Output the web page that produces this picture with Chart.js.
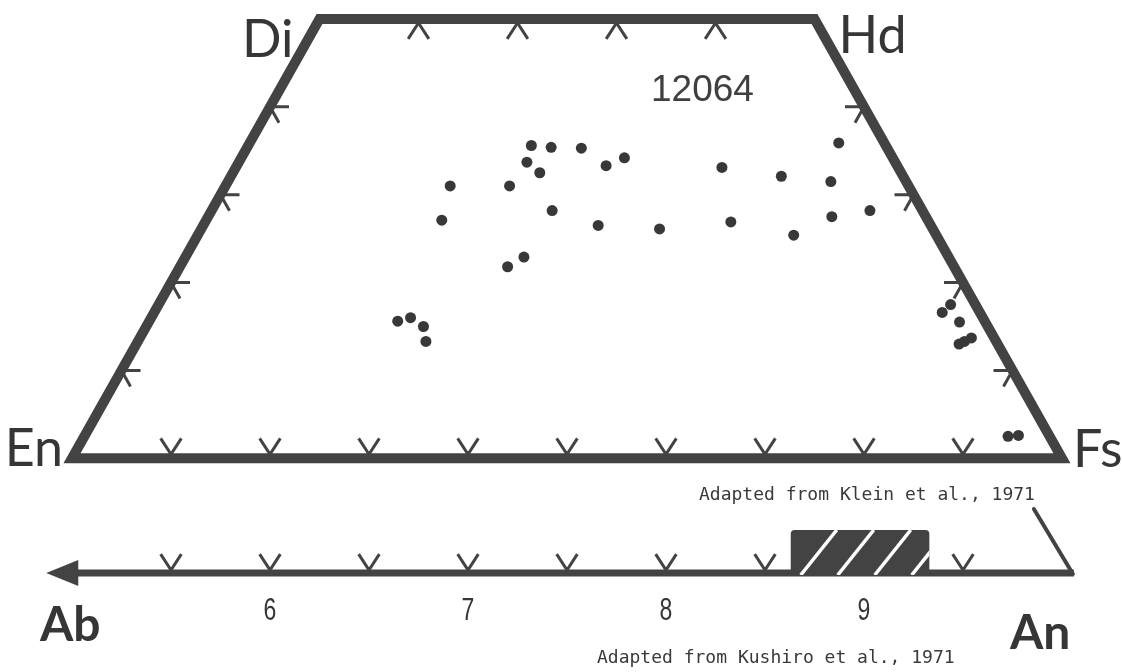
<!DOCTYPE html>
<html>
<head>
<meta charset="utf-8">
<title>12064 pyroxene and plagioclase compositions</title>
<script src="https://cdn.jsdelivr.net/npm/chart.js@4.4.1/dist/chart.umd.min.js"></script>
<style>
  html, body { margin: 0; padding: 0; background: #ffffff; }
  canvas { display: block; }
</style>
</head>
<body>
<canvas id="quad" width="1122" height="672"></canvas>
<script>
// Pyroxene analyses, sample 12064 (mol % Wo and Fs; En = 100 - Wo - Fs)
const pyxWo = [35.6, 35.4, 35.3, 33.7, 32.5, 33.3, 34.2, 31.0, 31.0, 28.2, 27.1, 26.5, 26.1, 22.9, 21.8,
               35.9, 33.1, 32.1, 31.5, 26.9, 25.4, 27.5, 28.2,
               15.6, 16.0, 15.0, 13.3,
               16.6, 17.5, 15.5, 13.0, 13.3, 13.7,
               2.5, 2.6];
const pyxFs = [28.6, 30.7, 33.8, 29.1, 31.0, 37.3, 38.7, 22.7, 28.7, 34.4, 23.8, 39.9, 46.3, 34.2, 33.1,
               59.5, 49.1, 55.6, 60.9, 53.1, 60.2, 63.0, 66.5,
               25.1, 26.2, 28.0, 29.1,
               79.6, 80.0, 81.9, 83.1, 83.5, 84.0,
               93.3, 94.3];

// Quadrilateral corners
const cornerNames = ['En', 'Di', 'Hd', 'Fs'];
const cornerWo = [0, 50, 50, 0];
const cornerFs = [0, 0, 50, 100];

// Edge tick marks (mol %)
const baseTicksFs = [10, 20, 30, 40, 50, 60, 70, 80, 90];
const topTicksFs = [10, 20, 30, 40];
const sideTicksWo = [10, 20, 30, 40];

// Plagioclase scale (mol % An)
const plagTicksAn = [55, 60, 65, 70, 75, 80, 85, 90, 95];
const plagLabelsAn = [60, 70, 80, 90];
const plagRangeAn = [86.3, 93.3];
const plagEndsAn = [48.8, 100.6];

const sampleName = '12064';
const sourceTop = 'Adapted from Klein et al., 1971';
const sourceBottom = 'Adapted from Kushiro et al., 1971';

// Ternary projection onto the En–Fs baseline
const proj = (wo, fs) => fs + wo / 2;

const INK = '#434343';
const DOT = '#383838';
const EDGE_W = 10;

const outlineOrder = [0, 1, 2, 3, 0, 1];
const outlineData = outlineOrder.map(i => ({ x: proj(cornerWo[i], cornerFs[i]), y: cornerWo[i] }));
const pyxData = pyxWo.map((wo, i) => ({ x: proj(wo, pyxFs[i]), y: wo }));

const diagramPlugin = {
  id: 'pyxDiagram',
  afterDatasetsDraw(chart) {
    const { ctx } = chart;
    const { x, y, x2 } = chart.scales;
    const px = (wo, fs) => x.getPixelForValue(proj(wo, fs));
    const py = wo => y.getPixelForValue(wo);
    const half = EDGE_W / 2;
    const ang = 57 * Math.PI / 180;
    const arm = 19;
    const ax = arm * Math.cos(ang), ay = arm * Math.sin(ang);

    ctx.save();
    ctx.strokeStyle = INK;
    ctx.lineWidth = 3;
    ctx.lineCap = 'butt';
    ctx.lineJoin = 'miter';

    // V marks on En–Fs join
    baseTicksFs.forEach(fs => {
      const cx = px(0, fs), cy = py(0) - half + 1;
      ctx.beginPath();
      ctx.moveTo(cx - ax, cy - ay);
      ctx.lineTo(cx, cy);
      ctx.lineTo(cx + ax, cy - ay);
      ctx.stroke();
    });
    // inverted marks on Di–Hd join
    topTicksFs.forEach(fs => {
      const cx = px(50, fs), cy = py(50) + half - 1;
      ctx.beginPath();
      ctx.moveTo(cx - ax, cy + ay);
      ctx.lineTo(cx, cy);
      ctx.lineTo(cx + ax, cy + ay);
      ctx.stroke();
    });
    // side marks: horizontal arm plus 60° arm
    sideTicksWo.forEach(wo => {
      const lx = px(wo, 0), ly = py(wo);
      ctx.beginPath();
      ctx.moveTo(lx + 19, ly);
      ctx.lineTo(lx, ly);
      ctx.lineTo(lx + 9, ly + 16);
      ctx.stroke();
      const rx = px(wo, 100 - wo), ry = py(wo);
      ctx.beginPath();
      ctx.moveTo(rx - 19, ry);
      ctx.lineTo(rx, ry);
      ctx.lineTo(rx - 9, ry + 16);
      ctx.stroke();
    });

    // Plagioclase scale
    const rowY = 573;
    const left = x2.getPixelForValue(plagEndsAn[0]);
    const right = x2.getPixelForValue(plagEndsAn[1]);
    ctx.lineWidth = 7;
    ctx.beginPath();
    ctx.moveTo(left + 26, rowY);
    ctx.lineTo(right, rowY);
    ctx.stroke();
    ctx.fillStyle = INK;
    ctx.beginPath();
    ctx.moveTo(left - 2, rowY);
    ctx.lineTo(left + 30, rowY - 13);
    ctx.lineTo(left + 30, rowY + 13);
    ctx.closePath();
    ctx.fill();
    // leader up toward the pyroxene diagram
    ctx.lineWidth = 4;
    ctx.lineCap = 'round';
    ctx.beginPath();
    ctx.moveTo(right - 1, rowY + 1);
    ctx.lineTo(right - 40, rowY - 64);
    ctx.stroke();
    ctx.lineCap = 'butt';

    // V marks on the plagioclase scale
    ctx.lineWidth = 3;
    plagTicksAn.forEach(an => {
      const cx = x2.getPixelForValue(an), cy = rowY - 3;
      ctx.beginPath();
      ctx.moveTo(cx - ax, cy - ay);
      ctx.lineTo(cx, cy);
      ctx.lineTo(cx + ax, cy - ay);
      ctx.stroke();
    });

    // hatched composition range
    const bx0 = x2.getPixelForValue(plagRangeAn[0]);
    const bx1 = x2.getPixelForValue(plagRangeAn[1]);
    const by0 = rowY - 43, by1 = rowY + 2;
    ctx.save();
    ctx.beginPath();
    ctx.roundRect(bx0, by0, bx1 - bx0, by1 - by0, 4);
    ctx.fillStyle = INK;
    ctx.fill();
    ctx.clip();
    ctx.strokeStyle = '#ffffff';
    ctx.lineWidth = 3.5;
    for (let sx = bx0 + 10; sx < bx1 + 40; sx += 37) {
      ctx.beginPath();
      ctx.moveTo(sx, by1);
      ctx.lineTo(sx + 36, by0);
      ctx.stroke();
    }
    ctx.restore();

    // Text
    ctx.fillStyle = '#363636';
    ctx.textBaseline = 'alphabetic';
    const corner = i => ({ cx: px(cornerWo[i], cornerFs[i]), cy: py(cornerWo[i]) });
    ctx.font = '52px Lato, "Open Sans", sans-serif';
    let c = corner(0);
    ctx.textAlign = 'right';
    ctx.fillText(cornerNames[0], c.cx - 9, c.cy + 8);
    c = corner(1);
    ctx.fillText(cornerNames[1], c.cx - 26, c.cy + 38);
    ctx.textAlign = 'left';
    c = corner(2);
    ctx.fillText(cornerNames[2], c.cx + 24, c.cy + 34);
    c = corner(3);
    ctx.fillText(cornerNames[3], c.cx + 11, c.cy + 9);

    ctx.font = '37px "Liberation Sans", Arial, sans-serif';
    ctx.fillStyle = '#404040';
    ctx.fillText(sampleName, 651, 101);

    ctx.font = 'bold 48px Lato, "Open Sans", sans-serif';
    ctx.fillStyle = '#363636';
    ctx.fillText('Ab', 40, 641);
    ctx.fillText('An', 1010, 649);

    // condensed numerals under the plagioclase scale
    ctx.font = '32px "Liberation Sans", Arial, sans-serif';
    ctx.textAlign = 'center';
    plagLabelsAn.forEach(an => {
      ctx.save();
      ctx.translate(x2.getPixelForValue(an), 620);
      ctx.scale(0.72, 1);
      ctx.fillText(String(an / 10), 0, 0);
      ctx.restore();
    });

    ctx.font = '18px "DejaVu Sans Mono", "Liberation Mono", monospace';
    ctx.textAlign = 'left';
    ctx.fillStyle = '#3a3a3a';
    ctx.fillText(sourceTop, 699, 500);
    ctx.fillText(sourceBottom, 597, 663);
    ctx.restore();
  }
};

new Chart(document.getElementById('quad'), {
  type: 'scatter',
  data: {
    datasets: [
      {
        label: 'outline',
        data: outlineData,
        showLine: true,
        borderColor: INK,
        borderWidth: EDGE_W,
        borderJoinStyle: 'miter',
        borderCapStyle: 'butt',
        pointRadius: 0,
        tension: 0,
        fill: false,
        clip: false,
        order: 2
      },
      {
        label: sampleName,
        data: pyxData,
        pointRadius: 5.5,
        pointBackgroundColor: DOT,
        pointBorderWidth: 0,
        showLine: false,
        clip: false,
        order: 1
      }
    ]
  },
  options: {
    responsive: false,
    animation: false,
    devicePixelRatio: 1,
    events: [],
    layout: { padding: { left: 72, right: 60, top: 19, bottom: 0 } },
    plugins: { legend: { display: false }, tooltip: { enabled: false } },
    scales: {
      x: { type: 'linear', min: 0, max: 100, display: false },
      x2: { type: 'linear', axis: 'x', min: 50, max: 100, display: false },
      y: { type: 'linear', min: -23.7, max: 50, display: false }
    }
  },
  plugins: [diagramPlugin]
});
</script>
</body>
</html>
